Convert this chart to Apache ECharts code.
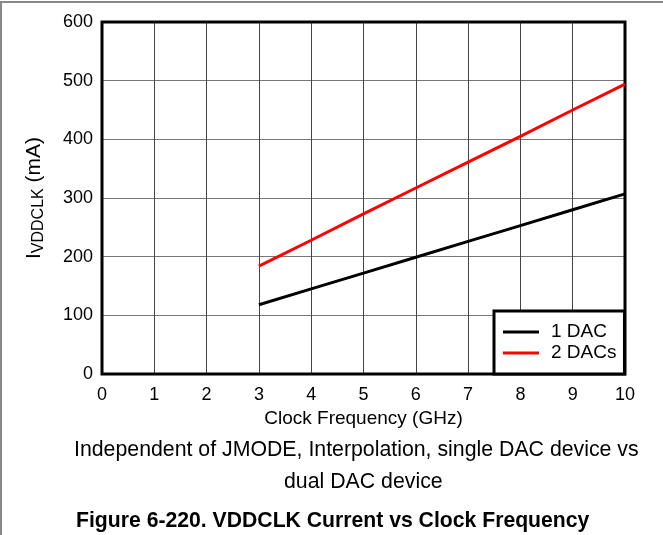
<!DOCTYPE html>
<html>
<head>
<meta charset="utf-8">
<script src="https://cdn.jsdelivr.net/npm/echarts@6/dist/echarts.min.js"></script>
<style>
html,body{margin:0;padding:0;background:#fff;}
#c{width:663px;height:535px;}
</style>
</head>
<body>
<div id="c"></div>
<script>
var freq = [3, 4, 5, 6, 7, 8, 9, 10];
var oneDac = [118, 145, 172, 199, 226, 253, 280, 307];
var twoDacs = [184, 228, 273, 317, 361, 405, 450, 494];
var seriesNames = ['1 DAC', '2 DACs'];
var xTitle = 'Clock Frequency (GHz)';
var caption1 = 'Independent of JMODE, Interpolation, single DAC device vs';
var caption2 = 'dual DAC device';
var figTitle = 'Figure 6-220. VDDCLK Current vs Clock Frequency';

var FONT = '"Liberation Sans", Arial, sans-serif';
function pairs(xs, ys){ return xs.map(function(x,i){ return [x, ys[i]]; }); }

var chart = echarts.init(document.getElementById('c'), null, {renderer:'canvas'});
chart.setOption({
  animation: false,
  backgroundColor: '#fff',
  textStyle: {fontFamily: FONT},
  grid: {left: 102, right: 38, top: 22, bottom: 161, show: true, borderColor: '#000', borderWidth: 3, backgroundColor: 'transparent', z: 3},
  xAxis: {
    type: 'value', min: 0, max: 10, interval: 1,
    axisLine: {show: false}, axisTick: {show: false},
    axisLabel: {color: '#000', fontSize: 18, fontFamily: FONT, margin: 12},
    splitLine: {show: true, lineStyle: {color: '#444', width: 1}},
    name: xTitle, nameLocation: 'middle', nameGap: 23,
    nameTextStyle: {color: '#000', fontSize: 19, fontFamily: FONT}
  },
  yAxis: {
    type: 'value', min: 0, max: 600, interval: 100,
    axisLine: {show: false}, axisTick: {show: false},
    axisLabel: {color: '#000', fontSize: 18, fontFamily: FONT, margin: 9},
    splitLine: {show: true, lineStyle: {color: '#777', width: 1}},
    name: '{a|I}{b|VDDCLK}{a| (mA)}', nameLocation: 'middle', nameGap: 55,
    nameTextStyle: {
      color: '#000', fontFamily: FONT,
      rich: {
        a: {fontSize: 21, fontFamily: FONT, color: '#000'},
        b: {fontSize: 16, fontFamily: FONT, color: '#000', verticalAlign: 'bottom', padding: [9, 0, 0, 0]}
      }
    }
  },
  legend: {
    orient: 'vertical', left: 494, top: 311,
    backgroundColor: '#fff', borderColor: '#000', borderWidth: 3,
    padding: [11, 8, 11, 9], itemGap: 1, itemWidth: 36, itemHeight: 3, icon: 'rect',
    textStyle: {color: '#000', fontSize: 19, lineHeight: 20, fontFamily: FONT, padding: [0, 0, 0, 7]},
    data: seriesNames, z: 10
  },
  series: [
    {name: seriesNames[0], type: 'line', data: pairs(freq, oneDac), symbol: 'none',
     lineStyle: {color: '#000', width: 3}, itemStyle: {color: '#000'}, z: 4},
    {name: seriesNames[1], type: 'line', data: pairs(freq, twoDacs), symbol: 'none',
     lineStyle: {color: '#ff0000', width: 3}, itemStyle: {color: '#ff0000'}, z: 4}
  ],
  graphic: [
    {type: 'line', shape: {x1: 0, y1: 2, x2: 663, y2: 2}, style: {stroke: '#888', lineWidth: 2}},
    {type: 'line', shape: {x1: 1, y1: 2, x2: 1, y2: 535}, style: {stroke: '#888', lineWidth: 2}},
    {type: 'text', left: 74, top: 440, style: {text: caption1, fill: '#000', font: '21.3px ' + FONT}},
    {type: 'text', left: 284, top: 472, style: {text: caption2, fill: '#000', font: '21.3px ' + FONT}},
    {type: 'text', left: 76, top: 511, style: {text: figTitle, fill: '#000', font: 'bold 21.2px ' + FONT}}
  ]
});
</script>
</body>
</html>
